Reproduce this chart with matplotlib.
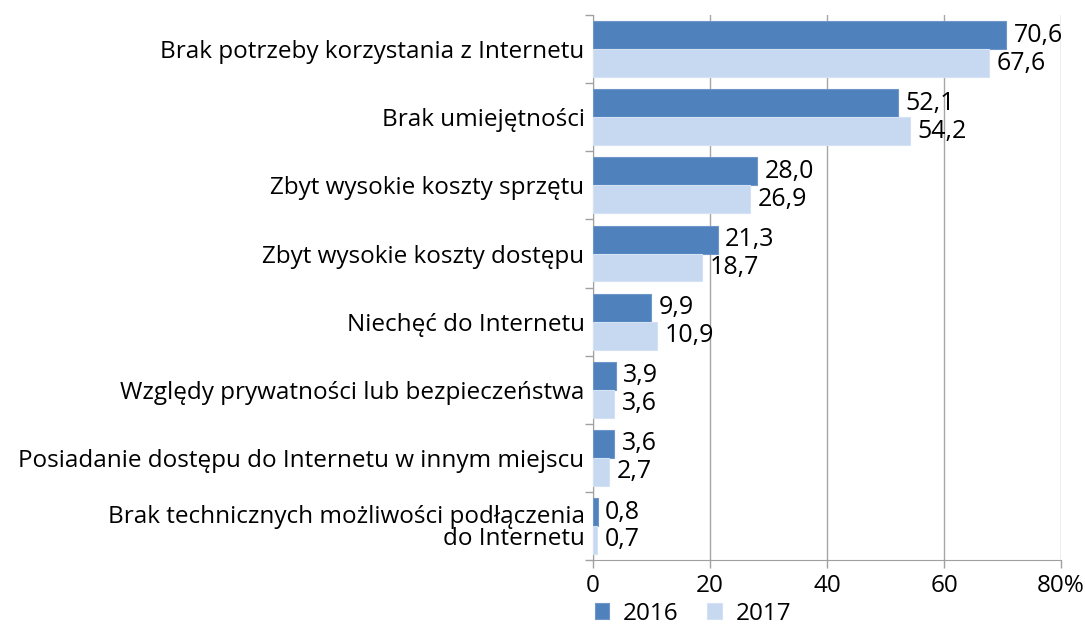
import matplotlib
matplotlib.use("Agg")
import matplotlib.pyplot as plt
import numpy as np

# data
categories = [
    "Brak potrzeby korzystania z Internetu",
    "Brak umiejętności",
    "Zbyt wysokie koszty sprzętu",
    "Zbyt wysokie koszty dostępu",
    "Niechęć do Internetu",
    "Względy prywatności lub bezpieczeństwa",
    "Posiadanie dostępu do Internetu w innym miejscu",
    "Brak technicznych możliwości podłączenia\ndo Internetu",
]
values_2016 = [70.6, 52.1, 28.0, 21.3, 9.9, 3.9, 3.6, 0.8]
values_2017 = [67.6, 54.2, 26.9, 18.7, 10.9, 3.6, 2.7, 0.7]
series_labels = ["2016", "2017"]
x_ticks = [0, 20, 40, 60, 80]
x_ticklabels = ["0", "20", "40", "60", "80%"]

plt.rcParams['font.family'] = ['Open Sans', 'DejaVu Sans']
fs = 17.5

fig = plt.figure(figsize=(10.85, 6.3), dpi=100)
ax = fig.add_axes([0.5465, 0.111, 0.978 - 0.5465, 0.976 - 0.111])

c16 = '#4F81BD'
c17 = '#C6D9F1'
h = 0.41
y = np.arange(len(categories))

b1 = ax.barh(y - h / 2, values_2016, height=h, color=c16, edgecolor='#6F96C8',
             linewidth=0.8, label=series_labels[0], zorder=3)
b2 = ax.barh(y + h / 2, values_2017, height=h, color=c17, edgecolor='#D5E2F4',
             linewidth=0.8, label=series_labels[1], zorder=3)

for yy, v in zip(y - h / 2, values_2016):
    ax.text(v + 1.3, yy, f"{v:.1f}".replace('.', ','), va='center', ha='left',
            fontsize=18, color='black')
for yy, v in zip(y + h / 2, values_2017):
    ax.text(v + 1.3, yy, f"{v:.1f}".replace('.', ','), va='center', ha='left',
            fontsize=18, color='black')

ax.set_ylim(len(categories) - 0.5, -0.5)
ax.set_xlim(0, 80)
ax.set_yticks(y)
ax.set_yticklabels(categories, fontsize=fs, linespacing=0.9)
ax.tick_params(axis='y', length=0, pad=6)
# small boundary ticks on the y axis
ax.set_yticks(np.arange(len(categories) + 1) - 0.5, minor=True)
ax.tick_params(axis='y', which='minor', length=6, color='#A0A0A0', width=1)

ax.set_xticks(x_ticks)
ax.set_xticklabels(x_ticklabels, fontsize=fs)
ax.tick_params(axis='x', length=6, color='#A0A0A0', width=1, pad=4)

ax.grid(axis='x', color='#A6A6A6', linewidth=1, zorder=0)
for s in ['top', 'right']:
    ax.spines[s].set_visible(False)
ax.spines['left'].set_color('#A0A0A0')
ax.spines['bottom'].set_color('#A0A0A0')

leg = fig.legend(handles=[b1, b2], labels=series_labels, loc='lower left',
                 bbox_to_anchor=(0.528, -0.028), ncol=2, frameon=False,
                 fontsize=fs, handlelength=0.6, handleheight=0.6,
                 handletextpad=0.55, columnspacing=1.2)

fig.savefig("out.png", dpi=100)
